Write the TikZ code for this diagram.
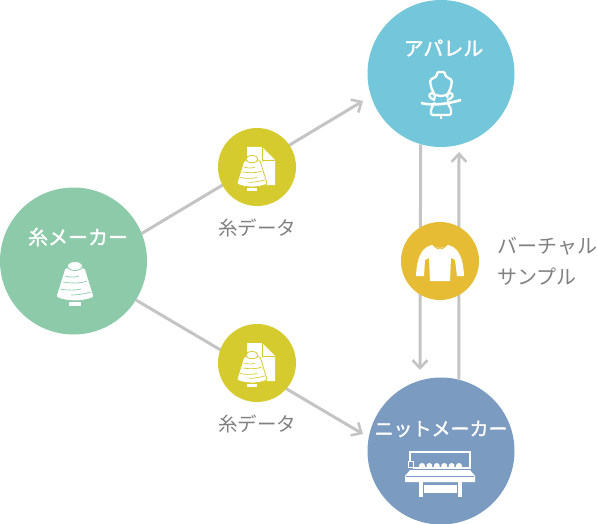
\documentclass[tikz,border=0pt]{standalone}
\usepackage{xcolor}
\usepackage{fontspec}
\setmainfont{Noto Sans CJK JP}
\newfontfamily\hubfont[FakeBold=1.5]{Noto Sans CJK JP}
\usepackage{tikz}
\usetikzlibrary{arrows.meta, positioning}
\definecolor{mygreen}{RGB}{141,202,169}
\definecolor{myblue}{RGB}{116,199,218}
\definecolor{mynavy}{RGB}{123,156,192}
\definecolor{myyellow}{RGB}{214,203,46}
\definecolor{myamber}{RGB}{231,188,53}
\definecolor{mygrey}{RGB}{128,128,128}
\definecolor{myline}{RGB}{196,196,196}
\tikzset{
  hub/.style={circle, inner sep=0pt, minimum size=147pt},
  badge/.style={circle, inner sep=0pt, minimum size=78pt},
  hublabel/.style={text=white, font=\hubfont\fontsize{20}{20}\selectfont, inner sep=0pt},
  sidelabel/.style={text=mygrey, font=\fontsize{20}{31}\selectfont, inner sep=0pt},
  datalabel/.style={text=mygrey, font=\fontsize{19.5}{20}\selectfont, inner sep=0pt},
  arrow/.style={-{Straight Barb[length=8pt,width=15pt,line width=2.6pt]}, line width=3pt, color=myline},
  spool/.pic={
    \draw[#1, fill=white, line width=0.8pt, rounded corners=1pt] (-10,-16) -- (-19,13) .. controls (-8,18) and (8,18) .. (19,13) -- (10,-16) -- cycle;
    \draw[#1, fill=white, line width=0.8pt] (-6.5,17) rectangle (6.5,22);
    \draw[#1, fill=white, line width=0.8pt] (0,-18) ellipse (7.5 and 4.5);
    \draw[#1, line width=0.7pt] (-10,-8) .. controls (-5,-6.5) and (0,-6.5) .. (4,-8);
    \draw[#1, line width=0.7pt] (-12,-2) .. controls (-4,-0.5) and (6,-0.5) .. (12,-3);
    \draw[#1, line width=0.7pt] (-15,5) .. controls (-8,6.5) and (1,6.5) .. (6,5);
    \draw[#1, line width=0.7pt] (-4,11) .. controls (3,11) and (9,10) .. (16,8);
  },
  datafile/.pic={
    \fill[white] (-10,-20) -- (5,-20) -- (18,-7) -- (18,18) -- (-10,18) -- cycle;
    \draw[myyellow, line width=0.8pt] (5,-20) -- (5,-7) -- (18,-7);
    \pic[scale=0.8] at (-5,6.5) {spool=myyellow};
  },
  dummy/.pic={
    \draw[white, line width=2.3pt, rounded corners=1.5pt] (-4,-23) -- (4,-23) -- (4,-19) -- (11,-15) -- (10,-8) -- (6,1) -- (7,9) -- (10,14) -- (10,20) -- (-10,20) -- (-10,14) -- (-7,9) -- (-6,1) -- (-10,-8) -- (-11,-15) -- (-4,-19) -- cycle;
    \draw[myblue, line width=3.5pt] (-14,6) -- (14,4);
    \draw[white, line width=2.3pt] (-6,5) .. controls (-13,3) and (-13,-1) .. (-9,-2) .. controls (-3,2) and (3,2) .. (9,-2) .. controls (13,-1) and (13,3) .. (6,5);
    \draw[white, line width=2.6pt] (-20,8) .. controls (-8,11) and (6,9) .. (20,5);
    \draw[white, line width=2.3pt] (0,20) -- (0,24);
  },
  knitter/.pic={
    \draw[white, line width=1.2pt] (-30,-6) -- (-30,-15) -- (30,-15) -- (30,1) -- (-27,1);
    \draw[white, line width=1pt] (-32,-6) rectangle (-27,0);
    \foreach \kx in {-18,-10.6,-3.2,4.2,11.6,19} {
      \fill[white] (\kx-2.8,0) -- (\kx-2.8,-2) .. controls (\kx-2,-4.5) and (\kx+2,-4.5) .. (\kx+2.8,-2) -- (\kx+2.8,0) -- cycle;
    }
    \fill[white] (-30,3) -- (30,3) -- (35,9) -- (35,15) -- (-35,15) -- (-35,9) -- cycle;
    \draw[mynavy, line width=0.7pt] (-34,9.5) -- (34,9.5);
    \fill[white] (-21,15) rectangle (-17.5,30);
    \fill[white] (17.5,15) rectangle (22,30);
    \fill[white] (-16.5,18) rectangle (16.5,26);
  },
  sweater/.pic={
    \fill[white] (-8,-16) .. controls (-4,-12) and (4,-12) .. (8,-16) .. controls (16,-14) and (23,-8) .. (24,15) -- (17,15) -- (15,-1) -- (11,-3) -- (10,20) -- (-10,20) -- (-11,-3) -- (-15,-1) -- (-16,15) -- (-24,15) .. controls (-23,-8) and (-16,-14) .. (-8,-16) -- cycle;
    \draw[myamber, line width=0.8pt] (-6,-15) .. controls (-3,-11) and (3,-11) .. (6,-15);
  }
}

\begin{document}
\begin{tikzpicture}[x=1pt, y=-1pt]
  \useasboundingbox (0,0) rectangle (597,524);

  % Free ends of the connectors
  \coordinate (toapparel) at (363,101);
  \coordinate (toknit) at (363,434);
  \coordinate (downend) at (420,370);
  \coordinate (upend) at (459,152);

  % Makers
  \node[hub, fill=mygreen] (yarn) at (73.5,261) {};
  \node[hub, fill=myblue] (apparel) at (441,73.5) {};
  \node[hub, fill=mynavy] (knit) at (441,451) {};

  % Connectors, under the badges
  \draw[arrow] (yarn.22) -- (toapparel);
  \draw[arrow] (yarn.-32) -- (toknit);
  \draw[arrow] (apparel.-106.6) -- (downend);
  \draw[arrow] (knit.76) -- (upend);

  % Data passed along
  \node[badge, fill=myyellow] (dataup) at (257,167) {};
  \node[badge, fill=myyellow] (datadown) at (257,363) {};
  \node[badge, fill=myamber] (sample) at (440,261) {};

  % Labels
  \node[hublabel] (yarntext) at (78,237) {糸メーカー};
  \node[hublabel] (appareltext) at (443.5,48) {アパレル};
  \node[hublabel, font=\hubfont\fontsize{19}{19}\selectfont] (knittext) at (441,429) {ニットメーカー};
  \node[datalabel, below=12pt of dataup] (datauptext) {糸データ};
  \node[datalabel, below=12pt of datadown] (datadowntext) {糸データ};
  \node[sidelabel, align=left, anchor=west] (sampletext) at (497,261) {バーチャル\\サンプル};

  % Icons
  \pic at (75,284) {spool=mygreen};
  \pic at (441,95) {dummy};
  \pic at (440,467) {knitter};
  \pic at (257,167) {datafile};
  \pic at (257,363) {datafile};
  \pic at (440,261) {sweater};
\end{tikzpicture}
\end{document}
